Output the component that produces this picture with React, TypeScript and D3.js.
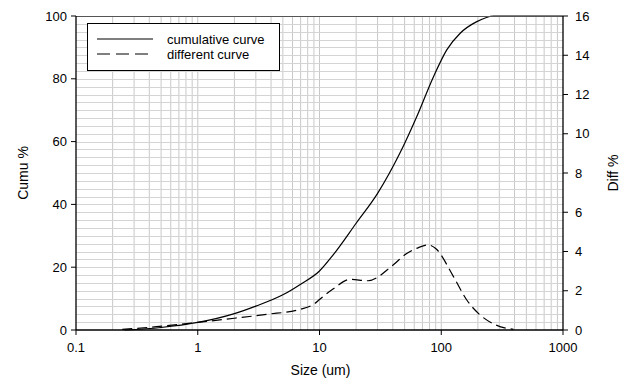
import { useRef, useEffect } from 'react';
import * as d3 from 'd3';

// particle sizes (um) and readings
const cumuSizes = [0.25, 0.5, 1, 2, 3, 5, 7, 10, 13, 20, 30, 46, 63, 86, 111, 143, 196, 270, 1000];
const cumuValues = [0, 0.8, 2.4, 5.2, 7.6, 11.2, 14.6, 18.8, 24, 34, 43.5, 56.5, 68, 80.5, 89.2, 94.5, 98.2, 100, 100];

const diffSizes = [0.24, 0.46, 1, 2, 3.7, 6.9, 9.2, 10, 13, 17.8, 25, 40, 52, 65, 78, 90, 126, 162, 209, 283, 392];
const diffValues = [0.03, 0.17, 0.39, 0.6, 0.8, 1.05, 1.36, 1.55, 2.1, 2.58, 2.51, 3.3, 3.9, 4.2, 4.33, 4.15, 2.72, 1.53, 0.76, 0.25, 0.03];

const xTickValues = [0.1, 1, 10, 100, 1000];
const xTickLabels = ['0.1', '1', '10', '100', '1000'];
const leftTicks = [0, 20, 40, 60, 80, 100];
const rightTicks = [0, 2, 4, 6, 8, 10, 12, 14, 16];

const seriesNames = ['cumulative curve', 'different curve'];

export default function App() {
  const svgRef = useRef<SVGSVGElement>(null);

  useEffect(() => {
    if (!svgRef.current) return;
    const svg = d3.select(svgRef.current);
    svg.selectAll('*').remove();

    const width = 634;
    const height = 385;
    const margin = { top: 16, right: 71, bottom: 55, left: 76 };
    const innerW = width - margin.left - margin.right;
    const innerH = height - margin.top - margin.bottom;
    const font = 'Arial, "Liberation Sans", sans-serif';

    svg.attr('width', width).attr('height', height);
    svg.append('rect').attr('width', width).attr('height', height).attr('fill', '#fff');

    const g = svg.append('g').attr('transform', `translate(${margin.left},${margin.top})`);

    const x = d3.scaleLog().domain([0.1, 1000]).range([0, innerW]);
    const yL = d3.scaleLinear().domain([0, 100]).range([innerH, 0]);
    const yR = d3.scaleLinear().domain([0, 16]).range([innerH, 0]);

    // Grid
    const vGrid: number[] = [];
    for (let d = 0.1; d < 1000; d *= 10) {
      for (let k = 1; k <= 9; k++) {
        const v = +(d * k).toPrecision(3);
        if (v > 0.1) vGrid.push(v);
      }
    }
    g.selectAll('.vgrid')
      .data(vGrid)
      .enter()
      .append('line')
      .attr('x1', (d) => x(d))
      .attr('x2', (d) => x(d))
      .attr('y1', 0)
      .attr('y2', innerH)
      .attr('stroke', '#c8c8c8')
      .attr('stroke-width', 1);

    const hGrid = d3.range(2.5, 100, 2.5);
    g.selectAll('.hgrid')
      .data(hGrid)
      .enter()
      .append('line')
      .attr('x1', 0)
      .attr('x2', innerW)
      .attr('y1', (d) => Math.round(yL(d)) + 0.5)
      .attr('y2', (d) => Math.round(yL(d)) + 0.5)
      .attr('stroke', '#d4d4d4')
      .attr('stroke-width', 1);

    // Curves
    const cumuLine = d3
      .line<number>()
      .x((_, i) => x(cumuSizes[i]))
      .y((d) => yL(d))
      .curve(d3.curveMonotoneX);
    g.append('path')
      .attr('d', cumuLine(cumuValues))
      .attr('fill', 'none')
      .attr('stroke', '#000')
      .attr('stroke-width', 1.2);

    const diffLine = d3
      .line<number>()
      .x((_, i) => x(diffSizes[i]))
      .y((d) => yR(d))
      .curve(d3.curveMonotoneX);
    g.append('path')
      .attr('d', diffLine(diffValues))
      .attr('fill', 'none')
      .attr('stroke', '#000')
      .attr('stroke-width', 1.2)
      .attr('stroke-dasharray', '10,5');

    // Frame
    g.append('line').attr('x1', 0).attr('x2', innerW).attr('y1', 0.5).attr('y2', 0.5).attr('stroke', '#555');
    g.append('line').attr('x1', 0).attr('x2', innerW).attr('y1', innerH).attr('y2', innerH).attr('stroke', '#000').attr('stroke-width', 1.3);
    g.append('line').attr('x1', 0).attr('x2', 0).attr('y1', 0).attr('y2', innerH).attr('stroke', '#000').attr('stroke-width', 1.3);
    g.append('line').attr('x1', innerW).attr('x2', innerW).attr('y1', 0).attr('y2', innerH).attr('stroke', '#000').attr('stroke-width', 1.3);

    // Left axis
    g.selectAll('.lt')
      .data(leftTicks)
      .enter()
      .append('line')
      .attr('x1', -5)
      .attr('x2', 0)
      .attr('y1', (d) => yL(d))
      .attr('y2', (d) => yL(d))
      .attr('stroke', '#000');
    g.selectAll('.ll')
      .data(leftTicks)
      .enter()
      .append('text')
      .attr('x', -9)
      .attr('y', (d) => yL(d))
      .attr('text-anchor', 'end')
      .attr('dominant-baseline', 'central')
      .attr('font-family', font)
      .attr('font-size', '13px')
      .attr('fill', '#000')
      .text((d) => d);

    // Right axis
    g.selectAll('.rt')
      .data(rightTicks)
      .enter()
      .append('line')
      .attr('x1', innerW)
      .attr('x2', innerW + 5)
      .attr('y1', (d) => yR(d))
      .attr('y2', (d) => yR(d))
      .attr('stroke', '#000');
    g.selectAll('.rl')
      .data(rightTicks)
      .enter()
      .append('text')
      .attr('x', innerW + 12)
      .attr('y', (d) => yR(d))
      .attr('dominant-baseline', 'central')
      .attr('font-family', font)
      .attr('font-size', '13px')
      .attr('fill', '#000')
      .text((d) => d);

    // Bottom axis
    g.selectAll('.bt')
      .data(xTickValues)
      .enter()
      .append('line')
      .attr('x1', (d) => x(d))
      .attr('x2', (d) => x(d))
      .attr('y1', innerH)
      .attr('y2', innerH + 5)
      .attr('stroke', '#000');
    g.selectAll('.bl')
      .data(xTickValues)
      .enter()
      .append('text')
      .attr('x', (d) => x(d))
      .attr('y', innerH + 22)
      .attr('text-anchor', 'middle')
      .attr('font-family', font)
      .attr('font-size', '13px')
      .attr('fill', '#000')
      .text((_, i) => xTickLabels[i]);

    // Axis titles
    svg.append('text')
      .attr('x', margin.left + innerW / 2 + 1)
      .attr('y', 375)
      .attr('text-anchor', 'middle')
      .attr('font-family', font)
      .attr('font-size', '14px')
      .text('Size (um)');
    svg.append('text')
      .attr('transform', `translate(28,${margin.top + innerH / 2}) rotate(-90)`)
      .attr('text-anchor', 'middle')
      .attr('font-family', font)
      .attr('font-size', '14px')
      .text('Cumu %');
    svg.append('text')
      .attr('transform', `translate(618,${margin.top + innerH / 2}) rotate(-90)`)
      .attr('text-anchor', 'middle')
      .attr('font-family', font)
      .attr('font-size', '14px')
      .text('Diff %');

    // Legend
    const lg = svg.append('g').attr('transform', 'translate(87,23)');
    lg.append('rect')
      .attr('x', 0.5)
      .attr('y', 0.5)
      .attr('width', 192)
      .attr('height', 47)
      .attr('fill', '#fff')
      .attr('stroke', '#000')
      .attr('stroke-width', 1);
    seriesNames.forEach((name, i) => {
      const yy = 16 + i * 15;
      lg.append('line')
        .attr('x1', 10)
        .attr('x2', 66)
        .attr('y1', yy)
        .attr('y2', yy)
        .attr('stroke', '#000')
        .attr('stroke-width', 1.2)
        .attr('stroke-dasharray', i === 1 ? '13,6' : null);
      lg.append('text')
        .attr('x', 80)
        .attr('y', yy)
        .attr('dominant-baseline', 'central')
        .attr('font-family', font)
        .attr('font-size', '13px')
        .text(name);
    });
  }, []);

  return <svg ref={svgRef} style={{ position: 'absolute', left: 0, top: 0, display: 'block' }} />;
}
